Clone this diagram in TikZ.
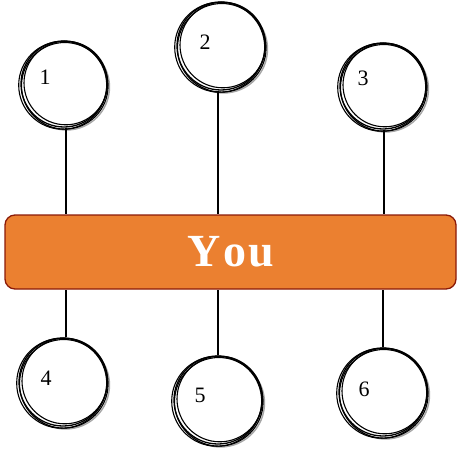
\documentclass[tikz,border=0pt]{standalone}
\usepackage{fontspec}
\setmainfont{Liberation Serif}
\definecolor{youfill}{HTML}{EB8030}
\definecolor{youedge}{HTML}{8B1A08}
\tikzset{
  bub/.style={circle, draw=black, line width=1.3pt, fill=white, minimum size=#1, inner sep=0pt},
  sk/.style={line width=1.1pt},
  skgray/.style={draw=gray!70, line width=1.4pt},
  num/.style={font=\fontsize{22}{22}\selectfont, inner sep=0pt},
  link/.style={draw=black, line width=1.2pt},
  youbox/.style={rounded corners=10pt, draw=youedge, line width=1.3pt, fill=youfill,
    minimum width=451pt, minimum height=74pt, text=white,
    font=\fontsize{46}{46}\selectfont\bfseries}
}
\newcommand{\skbub}[4]{%
  % #1 name, #2 center, #3 radius, #4 label offset
  \draw[skgray] ([shift={(2.5,-3)}]#2) circle (#3);
  \node[bub=2*#3 pt] (#1) at (#2) {};
  \draw[sk] ([shift={(1.8,1)}]#2) circle (#3-1.2);
  \draw[sk] ([shift={(-1.3,-1.2)}]#2) circle (#3+1);
  \draw[sk] ([shift={(0.8,-1.8)}]#2) circle (#3+0.3);
}
\begin{document}
\begin{tikzpicture}[x=1pt,y=1pt]
\useasboundingbox (0,0) rectangle (457,451);
\node[youbox] (you) at (230.5,199) {Y\kern3pt o\kern2pt u};

\skbub{c1}{64,367}{43}{}
\skbub{c2}{221,405}{44}{}
\skbub{c3}{383,365}{43}{}
\skbub{c4}{63,69}{44}{}
\skbub{c5}{218,51}{44}{}
\skbub{c6}{383,59}{44}{}

\node[num] (n1) at (45,374) {1};
\node[num] (n2) at (205,409) {2};
\node[num] (n3) at (363,373) {3};
\node[num] (n4) at (46,73) {4};
\node[num] (n5) at (200,56) {5};
\node[num] (n6) at (364,62) {6};

\draw[link] ([xshift=2pt]c1.south) -- ([xshift=2pt]c1.south |- you.north);
\draw[link] ([xshift=-3pt]c2.south) -- ([xshift=-3pt]c2.south |- you.north);
\draw[link] ([xshift=1pt]c3.south) -- ([xshift=1pt]c3.south |- you.north);
\draw[link] ([xshift=3pt]c4.north) -- ([xshift=3pt]c4.north |- you.south);
\draw[link] (c5.north) -- (c5.north |- you.south);
\draw[link] (c6.north) -- (c6.north |- you.south);
\end{tikzpicture}
\end{document}
